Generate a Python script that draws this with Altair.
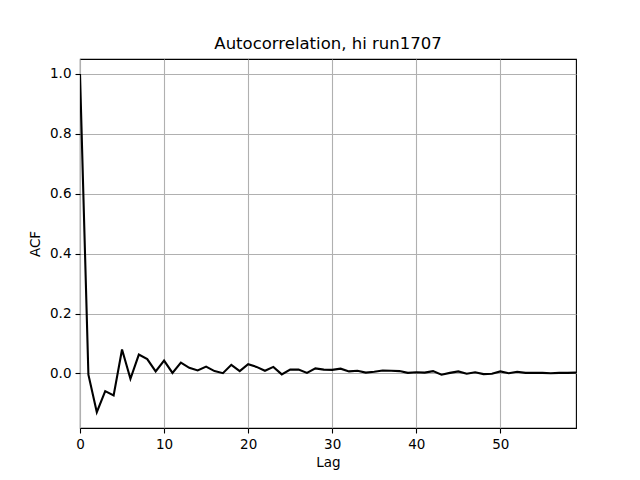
import altair as alt
import pandas as pd

title_text = "Autocorrelation, hi run1707"
lags = list(range(60))
acf = [1.0, -0.004, -0.129, -0.059, -0.073, 0.080, -0.018, 0.063, 0.048, 0.007,
       0.043, 0.002, 0.036, 0.019, 0.010, 0.023, 0.008, 0.001, 0.029, 0.008,
       0.031, 0.022, 0.009, 0.022, -0.003, 0.013, 0.013, 0.002, 0.017, 0.013,
       0.012, 0.016, 0.007, 0.009, 0.003, 0.006, 0.010, 0.009, 0.008, 0.002,
       0.004, 0.003, 0.008, -0.004, 0.002, 0.007, -0.001, 0.004, -0.002, -0.001,
       0.007, 0.001, 0.006, 0.002, 0.002, 0.002, 0.001, 0.002, 0.002, 0.003]
x_ticks = [0, 10, 20, 30, 40, 50]
y_ticks = [0.0, 0.2, 0.4, 0.6, 0.8, 1.0]

df = pd.DataFrame({"Lag": lags, "ACF": acf})

FONT = "DejaVu Sans"

chart = alt.Chart(df).mark_line(color="black", strokeWidth=2.1, clip=True).encode(
    x=alt.X("Lag:Q", scale=alt.Scale(domain=[0, 59], nice=False, zero=False),
            axis=alt.Axis(values=x_ticks, title="Lag", format="d")),
    y=alt.Y("ACF:Q", scale=alt.Scale(domain=[-0.182, 1.05], nice=False, zero=False),
            axis=alt.Axis(values=y_ticks, title="ACF", format=".1f")),
).properties(
    width=496,
    height=369,
    title=alt.TitleParams(title_text, font=FONT, fontSize=16.5, fontWeight="normal",
                          color="black", offset=7, anchor="middle"),
    autosize=alt.AutoSizeParams(type="none"),
    padding={"left": 72, "top": 51, "right": 56, "bottom": 44},
).configure_view(
    stroke="black", strokeWidth=1.1
).configure_axis(
    domain=False,
    grid=True,
    gridColor="#b0b0b0",
    gridWidth=1.1,
    tickColor="black",
    tickSize=5,
    tickWidth=1.1,
    labelFont=FONT,
    labelFontSize=13.5,
    labelColor="black",
    labelPadding=4,
    labelFlush=False,
    labelOverlap=False,
    titleFont=FONT,
    titleFontSize=13.5,
    titleFontWeight="normal",
    titleColor="black",
).configure_axisX(
    titlePadding=5,
).configure_axisY(
    titlePadding=7,
)

chart.save("out.html", embed_options={"renderer": "svg", "actions": False})
